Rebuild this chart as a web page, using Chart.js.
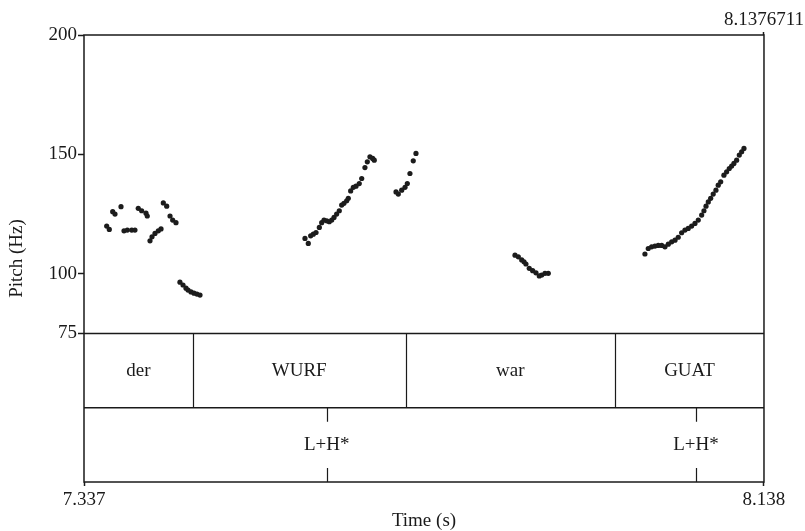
<!DOCTYPE html>
<html>
<head>
<meta charset="utf-8">
<script src="https://cdn.jsdelivr.net/npm/chart.js@4.4.1/dist/chart.umd.min.js"></script>
<style>
  html, body { margin: 0; padding: 0; background: #fff; }
  canvas { display: block; }
</style>
</head>
<body>
<canvas id="pitch-chart" width="805" height="531"></canvas>
<script>
// Time range of the excerpt (s) and pitch axis ticks (Hz)
const timeStart = 7.337;
const timeEnd = 8.1376711;
const pitchTicks = [75, 100, 150, 200];

// Pitch track, one line per voiced stretch
const pitchTimes = [
  7.3637, 7.3668, 7.3708, 7.3735, 7.3806, 7.3841, 7.3880, 7.3932, 7.3970, 7.4009, 7.4049, 7.4100,
  7.4115, 7.4147, 7.4171, 7.4206, 7.4245, 7.4277, 7.4304, 7.4344, 7.4383, 7.4414, 7.4453,
  7.4500, 7.4536, 7.4571, 7.4595, 7.4630, 7.4665, 7.4700, 7.4736,
  7.5972, 7.6011, 7.6039, 7.6070, 7.6102, 7.6141, 7.6169, 7.6196, 7.6228, 7.6258, 7.6287, 7.6314,
  7.6345, 7.6376, 7.6404, 7.6431, 7.6463, 7.6482, 7.6510, 7.6541, 7.6573, 7.6611, 7.6640, 7.6678,
  7.6706, 7.6737, 7.6769, 7.6788,
  7.7044, 7.7071, 7.7111, 7.7150, 7.7177, 7.7208, 7.7247, 7.7279,
  7.8445, 7.8484, 7.8524, 7.8551, 7.8574, 7.8613, 7.8653, 7.8692, 7.8731, 7.8759, 7.8798, 7.8837,
  7.9975, 8.0014, 8.0054, 8.0093, 8.0132, 8.0172, 8.0211, 8.0250, 8.0290, 8.0329, 8.0367, 8.0407,
  8.0446, 8.0485, 8.0525, 8.0564, 8.0603, 8.0643, 8.0670, 8.0694, 8.0721, 8.0749, 8.0779, 8.0811,
  8.0838, 8.0867, 8.0905, 8.0937, 8.0968, 8.0996, 8.1023, 8.1055, 8.1086, 8.1114, 8.1141
];
const pitchHz = [
  120.0, 118.6, 126.0, 125.0, 128.1, 118.0, 118.3, 118.3, 118.3, 127.4, 126.4, 125.4,
  124.2, 113.8, 115.5, 116.9, 118.0, 118.8, 129.7, 128.3, 124.2, 122.5, 121.4,
  96.5, 95.3, 94.0, 93.2, 92.4, 91.9, 91.5, 91.1,
  114.8, 112.7, 115.9, 116.6, 117.3, 119.4, 121.4, 122.5, 122.2, 121.8, 122.5, 123.6,
  125.0, 126.4, 128.8, 129.5, 130.6, 131.6, 134.7, 136.2, 136.7, 137.8, 139.9, 144.5,
  146.9, 149.0, 148.3, 147.6,
  134.3, 133.4, 135.0, 136.2, 137.8, 142.0, 147.3, 150.4,
  107.8, 107.1, 105.8, 105.0, 104.1, 102.3, 101.3, 100.4, 99.1, 99.5, 100.2, 100.2,
  108.3, 110.6, 111.3, 111.6, 111.9, 111.9, 111.3, 112.4, 113.4, 114.1, 115.3, 117.2,
  118.3, 119.0, 120.0, 121.1, 122.5, 124.6, 126.4, 128.3, 130.1, 131.6, 133.4, 135.0,
  137.1, 138.5, 141.3, 142.7, 144.1, 145.1, 146.2, 147.6, 149.7, 151.1, 152.5
];

// Word tier (interval boundaries) and tone tier (points)
const wordBounds = [7.4651, 7.7158, 7.9622];
const wordLabels = ['der', 'WURF', 'war', 'GUAT'];
const toneTimes = [7.6228, 8.0576];
const toneLabels = ['L+H*', 'L+H*'];

const ink = '#1a1a1a';
const serif = { family: "'Liberation Serif', 'Times New Roman', serif", size: 19 };

// Draws the frame and the two annotation tiers below the pitch track
const tierPlugin = {
  id: 'tiers',
  afterDraw(chart) {
    const { ctx, chartArea: area } = chart;
    const x = chart.scales.x;
    const tier = chart.scales.tier;
    const wordTop = tier.getPixelForValue(2);
    const wordBottom = tier.getPixelForValue(1);
    const toneBottom = tier.getPixelForValue(0);
    const markLen = (wordBottom - wordTop) * 0.19;

    ctx.save();
    ctx.strokeStyle = ink;
    ctx.fillStyle = ink;
    ctx.lineWidth = 1.5;
    ctx.strokeRect(area.left, area.top, area.right - area.left, area.bottom - area.top);

    ctx.beginPath();
    ctx.moveTo(area.left, wordTop);
    ctx.lineTo(area.right, wordTop);
    ctx.moveTo(area.left, wordBottom);
    ctx.lineTo(area.right, wordBottom);
    ctx.stroke();

    // interval boundaries
    ctx.lineWidth = 1.2;
    ctx.beginPath();
    wordBounds.forEach((t) => {
      const px = Math.round(x.getPixelForValue(t)) + 0.5;
      ctx.moveTo(px, wordTop);
      ctx.lineTo(px, wordBottom);
    });
    // tone point marks
    toneTimes.forEach((t) => {
      const px = Math.round(x.getPixelForValue(t)) + 0.5;
      ctx.moveTo(px, wordBottom);
      ctx.lineTo(px, wordBottom + markLen);
      ctx.moveTo(px, toneBottom);
      ctx.lineTo(px, toneBottom - markLen);
    });
    ctx.stroke();

    ctx.font = `${serif.size}px ${serif.family}`;
    ctx.textAlign = 'center';
    ctx.textBaseline = 'middle';
    const edges = [timeStart, ...wordBounds, timeEnd];
    wordLabels.forEach((label, i) => {
      const mid = (x.getPixelForValue(edges[i]) + x.getPixelForValue(edges[i + 1])) / 2;
      ctx.fillText(label, mid, tier.getPixelForValue(1.5));
    });
    toneLabels.forEach((label, i) => {
      ctx.fillText(label, x.getPixelForValue(toneTimes[i]), tier.getPixelForValue(0.5));
    });
    ctx.restore();
  }
};

const ctx = document.getElementById('pitch-chart').getContext('2d');
new Chart(ctx, {
  type: 'scatter',
  data: {
    datasets: [{
      label: 'Pitch',
      data: pitchTimes.map((t, i) => ({ x: t, y: pitchHz[i] })),
      yAxisID: 'y',
      pointRadius: 2.6,
      pointBorderWidth: 0,
      backgroundColor: '#1c1c1c'
    }]
  },
  options: {
    responsive: false,
    animation: false,
    events: [],
    layout: { padding: { top: 0, left: 0, right: 41, bottom: 0 } },
    plugins: {
      legend: { display: false },
      tooltip: { enabled: false }
    },
    scales: {
      x: {
        type: 'linear',
        position: 'bottom',
        min: timeStart,
        max: timeEnd,
        afterBuildTicks: (scale) => { scale.ticks = [{ value: timeStart }, { value: timeEnd }]; },
        afterFit: (scale) => { scale.height = 49; },
        ticks: {
          autoSkip: false,
          maxRotation: 0,
          padding: 3,
          color: ink,
          font: serif,
          callback: (v) => v.toFixed(3)
        },
        grid: { drawOnChartArea: false, tickLength: 4, tickColor: ink, tickWidth: 1.5 },
        border: { display: false },
        title: { display: true, text: 'Time (s)', color: ink, font: serif, padding: { top: 0, bottom: -1 } }
      },
      xTop: {
        type: 'linear',
        position: 'top',
        min: timeStart,
        max: timeEnd,
        afterBuildTicks: (scale) => { scale.ticks = [{ value: timeEnd }]; },
        afterFit: (scale) => { scale.height = 35; },
        ticks: {
          autoSkip: false,
          maxRotation: 0,
          padding: 1,
          color: ink,
          font: serif,
          callback: () => String(timeEnd)
        },
        grid: { drawOnChartArea: false, tickLength: 3, tickColor: ink, tickWidth: 1.5 },
        border: { display: false }
      },
      yTitle: {
        type: 'linear',
        position: 'left',
        weight: 3,
        min: 0,
        max: 1,
        afterBuildTicks: (scale) => { scale.ticks = []; },
        afterFit: (scale) => { scale.width = 30; },
        ticks: { display: false },
        grid: { display: false },
        border: { display: false },
        title: { display: true, text: 'Pitch (Hz)', color: ink, font: serif, padding: { top: 6, bottom: 0 } }
      },
      y: {
        type: 'linear',
        position: 'left',
        stack: 'frame',
        stackWeight: 298.5,
        weight: 2,
        min: 75,
        max: 200,
        afterBuildTicks: (scale) => { scale.ticks = pitchTicks.map((v) => ({ value: v })); },
        afterFit: (scale) => { scale.width = 54; },
        ticks: { padding: 1, color: ink, font: serif },
        grid: { drawOnChartArea: false, tickLength: 6, tickColor: ink, tickWidth: 1.5 },
        border: { display: false }
      },
      tier: {
        type: 'linear',
        position: 'left',
        stack: 'frame',
        stackWeight: 148.5,
        weight: 1,
        min: 0,
        max: 2,
        afterBuildTicks: (scale) => { scale.ticks = []; },
        afterFit: (scale) => { scale.width = 54; },
        ticks: { display: false },
        grid: { display: false },
        border: { display: false }
      }
    }
  },
  plugins: [tierPlugin]
});
</script>
</body>
</html>
